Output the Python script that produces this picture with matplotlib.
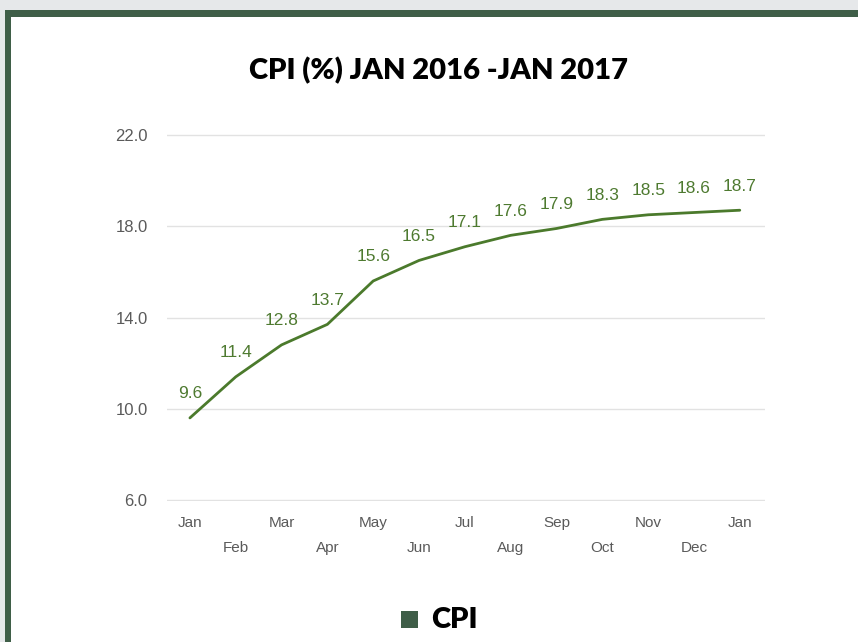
import matplotlib.pyplot as plt
from matplotlib.patches import Rectangle

months = ["Jan", "Feb", "Mar", "Apr", "May", "Jun", "Jul",
          "Aug", "Sep", "Oct", "Nov", "Dec", "Jan"]
cpi = [9.6, 11.4, 12.8, 13.7, 15.6, 16.5, 17.1, 17.6, 17.9, 18.3, 18.5, 18.6, 18.7]
yticks = [6.0, 10.0, 14.0, 18.0, 22.0]

W, H = 858, 642
fig = plt.figure(figsize=(W / 100, H / 100), dpi=100)
fig.patch.set_facecolor("#e6e8ea")

# frame: dark green border with white card
border = "#3f5e48"
fig.patches.append(Rectangle((5 / W, 0), 1, (H - 10) / H, transform=fig.transFigure,
                             facecolor=border, edgecolor="none", zorder=-2))
fig.patches.append(Rectangle((11 / W, 0), 1, (H - 17) / H, transform=fig.transFigure,
                             facecolor="white", edgecolor="none", zorder=-1))

ax = fig.add_axes([167 / W, 141 / H, 598 / W, 367 / H])
ax.set_zorder(1)
ax.set_facecolor("none")
x = list(range(len(cpi)))
line_c = "#4b7a2c"
ax.plot(x, cpi, color=line_c, lw=2, solid_capstyle="round")
for i, v in enumerate(cpi):
    ax.annotate(f"{v:.1f}", (i, v), xytext=(0, 24), textcoords="offset pixels",
                ha="center", va="center", color="#4e7a30", fontsize=12.5,
                family="Liberation Sans")

ax.set_xlim(-0.5, 12.55)
ax.set_ylim(5.96, 22.04)
ax.set_yticks(yticks)
ax.set_yticklabels([f"{t:.1f}" for t in yticks], color="#5a5a5a", fontsize=12,
                   family="Liberation Sans")
ax.grid(axis="y", color="#e2e2e2", lw=1)
ax.set_axisbelow(True)
for s in ax.spines.values():
    s.set_visible(False)
ax.tick_params(length=0, pad=14)
ax.set_xticks(x)
ax.set_xticklabels([])
for i, m in enumerate(months):
    ax.annotate(m, (i, 6), xytext=(0, -23 if i % 2 == 0 else -48),
                textcoords="offset pixels", ha="center", va="center",
                color="#5a5a5a", fontsize=11, family="Liberation Sans",
                annotation_clip=False)

fig.text(438 / W, 1 - 71 / H, "CPI (%) JAN 2016 -JAN 2017", ha="center", va="center",
         fontsize=21, fontweight="heavy", family="Lato", color="black")

# legend
fig.patches.append(Rectangle((401 / W, 1 - 628 / H), 17 / W, 17 / H, transform=fig.transFigure,
                             facecolor=border, edgecolor="none"))
fig.text(431 / W, 1 - 620 / H, "CPI", ha="left", va="center", fontsize=21,
         fontweight="heavy", family="Lato", color="black")

fig.savefig("out.png", dpi=100, facecolor=fig.get_facecolor())
